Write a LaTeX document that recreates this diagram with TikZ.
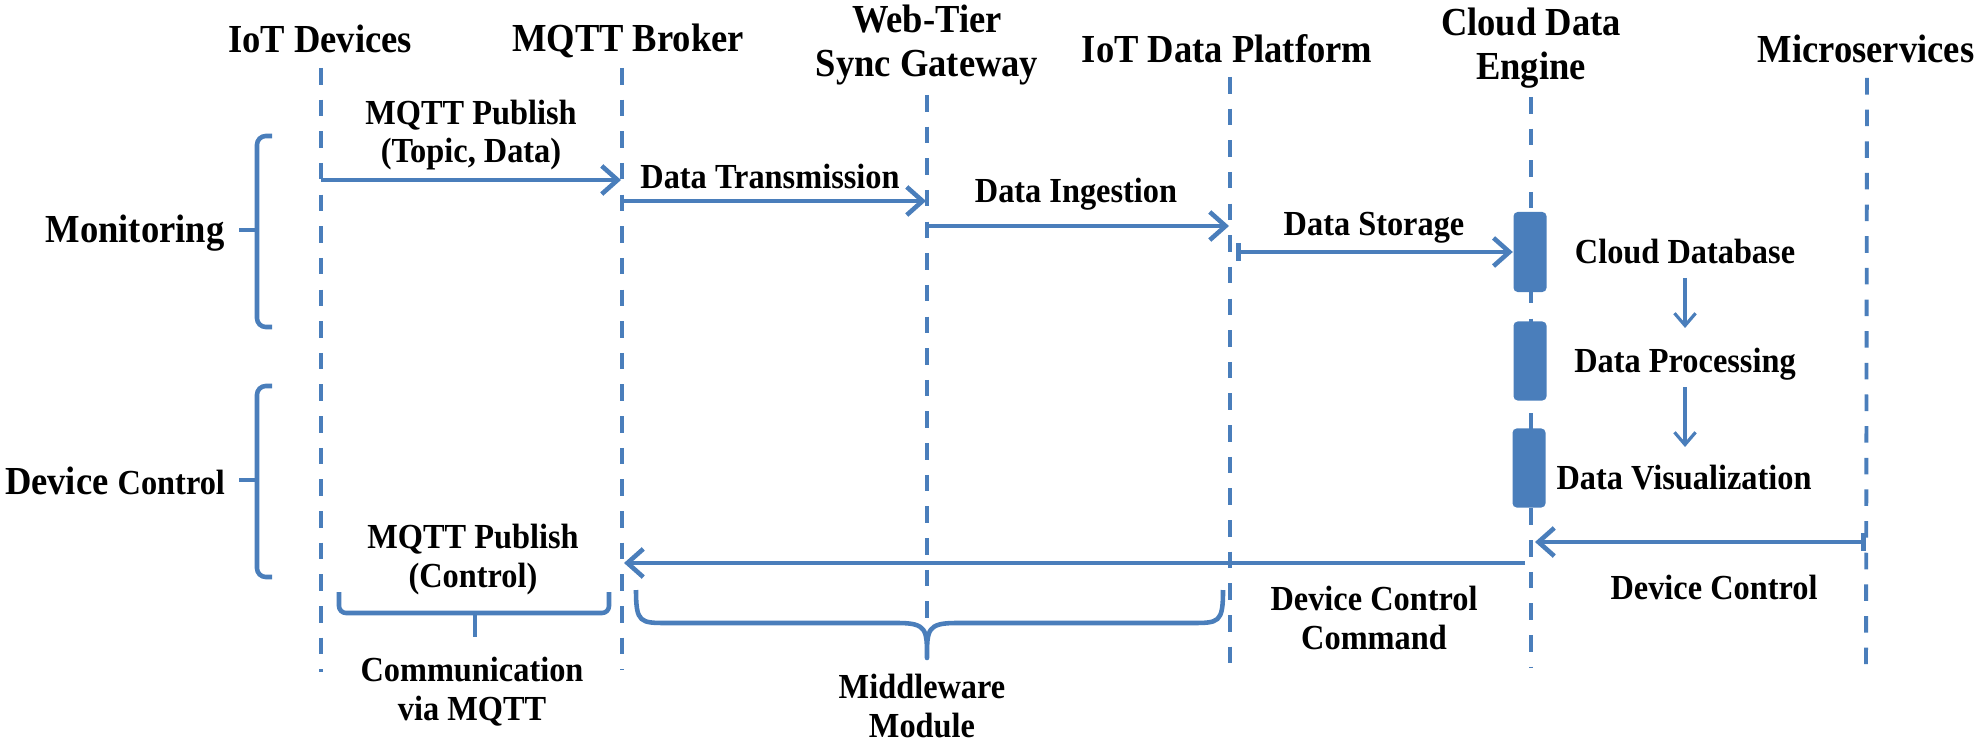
\documentclass[tikz,border=0pt]{standalone}
\usepackage{fontspec}
\setmainfont{Liberation Serif}[FakeStretch=0.92]
\usetikzlibrary{arrows.meta}
\definecolor{myblue}{RGB}{74,126,187}
\begin{document}
\begin{tikzpicture}[x=0.01cm,y=-0.01cm,
  ttl/.style={font=\fontsize{11.3}{12.6}\selectfont\bfseries, align=center, inner sep=0pt, anchor=base},
  lab/.style={font=\fontsize{10}{11}\selectfont\bfseries, align=center, inner sep=0pt, anchor=base},
  life/.style={draw=myblue, line width=1.1pt, dash pattern=on 4.7pt off 4.3pt},
  msg/.style={draw=myblue, line width=1.3pt, -{Straight Barb[length=4.5pt,width=8pt]}},
  barmsg/.style={msg, {Bar[width=5pt]}-{Straight Barb[length=4.5pt,width=8pt]}},
  brace/.style={draw=myblue, line width=1.3pt, line join=round},
  act/.style={fill=myblue, draw=none, rounded corners=1.2pt, minimum width=0.33cm, inner sep=0pt},
  sub/.style={draw=myblue, line width=0.9pt, -{Straight Barb[length=3.5pt,width=6pt]}}
]
\useasboundingbox (0,0) rectangle (1980,746);

% titles (anchor base = baseline of last line)
\node[ttl] (tIoT) at (320,53) {IoT Devices};
\node[ttl] (tMQ) at (628,52) {MQTT Broker};
\node[ttl] (tWeb) at (927,77) {Web-Tier\\Sync Gateway};
\node[ttl] (tPlat) at (1227,63) {IoT Data Platform};
\node[ttl] (tCloud) at (1531,80) {Cloud Data\\Engine};
\node[ttl] (tMicro) at (1866,63) {Microservices};

% lifelines
\coordinate (L1t) at (321,68);  \coordinate (L1b) at (321,672);
\coordinate (L2t) at (622,68);  \coordinate (L2b) at (622,670);
\coordinate (L3t) at (927,95);  \coordinate (L3b) at (927,655);
\coordinate (L4t) at (1230,77); \coordinate (L4b) at (1230,672);
\coordinate (L5t) at (1531,97); \coordinate (L5b) at (1531,667);
\coordinate (L6t) at (1867,78); \coordinate (L6b) at (1866,665);
\draw[life] (L1t) -- (L1b);
\draw[life] (L2t) -- (L2b);
\draw[life] (L3t) -- (L3b);
\draw[life] (L4t) -- (L4b);
\draw[life] (L5t) -- (L5b);
\draw[life] (L6t) -- (L6b);

% activation boxes
\node[act, minimum height=0.80cm] (box1) at (1530,252) {};
\node[act, minimum height=0.79cm] (box2) at (1530,361) {};
\node[act, minimum height=0.79cm] (box3) at (1529,468) {};

% messages
\coordinate (m1s) at (321,180);  \coordinate (m1e) at (621,180);
\coordinate (m2s) at (622,201);  \coordinate (m2e) at (926,201);
\coordinate (m3s) at (927,226);  \coordinate (m3e) at (1229,226);
\coordinate (m4s) at (1236,252);
\coordinate (m5s) at (1866,542); \coordinate (m5e) at (1535,542);
\coordinate (m6s) at (1525,563); \coordinate (m6e) at (624,563);
\draw[msg] (m1s) -- (m1e);
\draw[msg] (m2s) -- (m2e);
\draw[msg] (m3s) -- (m3e);
\draw[barmsg] (m4s) -- (box1.west);
\draw[barmsg] (m5s) -- (m5e);
\draw[msg] (m6s) -- (m6e);

% message labels
\node[lab] (lPub) at (471,163) {MQTT Publish\\(Topic, Data)};
\node[lab] (lTx) at (770,189) {Data Transmission};
\node[lab] (lIng) at (1076,203) {Data Ingestion};
\node[lab] (lSto) at (1374,236) {Data Storage};
\node[lab] (lDb) at (1685,264) {Cloud Database};
\node[lab] (lProc) at (1685,372) {Data Processing};
\node[lab] (lVis) at (1684,489) {Data Visualization};
\node[lab] (lPubC) at (473,587) {MQTT Publish\\(Control)};
\node[lab] (lCmd) at (1374,649) {Device Control\\Command};
\node[lab] (lDc) at (1714,599) {Device Control};
\node[lab] (lComm) at (472,720) {Communication\\via MQTT};
\node[lab] (lMid) at (922,737) {Middleware\\Module};

% internal arrows
\coordinate (s1s) at (1685,278); \coordinate (s1e) at (1685,328);
\coordinate (s2s) at (1685,387); \coordinate (s2e) at (1685,447);
\draw[sub] (s1s) -- (s1e);
\draw[sub] (s2s) -- (s2e);

% left phase labels and brackets
\node[ttl] (lMon) at (135,243) {Monitoring};
\node[ttl] (lDev) at (115,494) {Device {\fontsize{10}{11}\selectfont Control}};
\draw[brace, rounded corners=2.5pt] (272,136) -- (257,136) -- (257,327) -- (272,327);
\draw[brace] (257,230) -- (239,230);
\draw[brace, rounded corners=2.5pt] (272,386) -- (257,386) -- (257,577) -- (272,577);
\draw[brace] (257,480) -- (239,480);

% bottom braces
\draw[brace, rounded corners=2pt] (339,592) -- (339,613) -- (609,613) -- (609,592);
\draw[brace] (475,613) -- (475,637);
\draw[brace] (636,590) .. controls (636,623) and (640,623) .. (668,623) -- (898,623)
  .. controls (927,623) and (927,630) .. (927,658)
  .. controls (927,630) and (927,623) .. (956,623) -- (1191,623)
  .. controls (1219,623) and (1223,623) .. (1223,590);
\end{tikzpicture}
\end{document}
